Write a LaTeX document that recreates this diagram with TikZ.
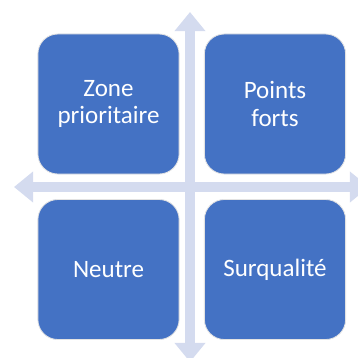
\documentclass[tikz,border=0pt]{standalone}
\usepackage{fontspec}
\setmainfont{Carlito}
\usetikzlibrary{arrows.meta}
\definecolor{QuadBlue}{RGB}{68, 114, 196}
\definecolor{AxisLilac}{RGB}{212, 219, 239}

\begin{document}
\begin{tikzpicture}[x=0.025cm, y=-0.025cm,
    quad/.style={rectangle, rounded corners=0.5cm, draw=gray!22, line width=0.6pt, fill=QuadBlue,
                 minimum width=3.53cm, minimum height=3.5cm, align=center, text=white,
                 font=\fontsize{17.8}{19.6}\selectfont},
    axis/.style={{Triangle[width=0.75cm, length=0.48cm]}-{Triangle[width=0.75cm, length=0.48cm]},
                 line width=0.23cm, AxisLilac}
  ]
    \useasboundingbox (0,0) rectangle (358,358);
    % axes
    \coordinate (top) at (190,12);
    \coordinate (bottom) at (190,362);
    \coordinate (left) at (14,187);
    \coordinate (right) at (369,187);
    \draw[axis] (top) -- (bottom);
    \draw[axis] (left) -- (right);
    % quadrants
    \node[quad] (q1) at (108.5,104)   {Zone\\prioritaire};
    \node[quad] (q2) at (275,104)     {Points\\forts};
    \node[quad] (q3) at (108.5,269.5) {Neutre};
    \node[quad] (q4) at (275,269.5)   {Surqualité};
\end{tikzpicture}
\end{document}
